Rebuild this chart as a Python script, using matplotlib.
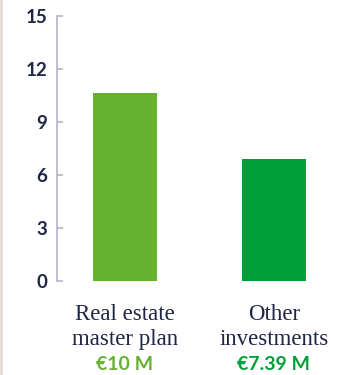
import matplotlib
matplotlib.use("Agg")
import matplotlib.pyplot as plt
from matplotlib.patches import Rectangle
from matplotlib.transforms import blended_transform_factory

categories = ["Real estate\nmaster plan", "Other\ninvestments"]
values = [10.65, 6.9]
value_labels = ["€10 M", "€7.39 M"]
bar_colors = ["#64b22f", "#00a039"]
yticks = [0, 3, 6, 9, 12, 15]

W, H = 345, 375
fig = plt.figure(figsize=(W / 100, H / 100), dpi=100)
fig.patches.append(Rectangle((0, 0), 3 / W, 1, transform=fig.transFigure,
                             facecolor="#e6ddd6", edgecolor="none"))
ax = fig.add_axes([57 / W, (H - 281) / H, (W - 57) / W, (281 - 16) / H])

x = list(range(len(categories)))
ax.bar(x, values, width=0.43, color=bar_colors)
ax.set_xlim(-0.456, 1.477)
ax.set_ylim(0, 15)

for s in ["top", "right", "bottom"]:
    ax.spines[s].set_visible(False)
ax.spines["left"].set_color("#b4b4cc")
ax.spines["left"].set_linewidth(1.2)
ax.set_xticks([])
ax.set_yticks(yticks)
ax.set_yticklabels([str(t) for t in yticks])
ax.tick_params(axis="y", direction="in", length=4.5, width=1.2, color="#b4b4cc",
               pad=7, labelsize=13.5, labelcolor="#1f2747")
for lab in ax.get_yticklabels():
    lab.set_fontfamily("Lato")
    lab.set_fontweight("bold")

tr = blended_transform_factory(ax.transData, fig.transFigure)
for i, (cat, vl, c) in enumerate(zip(categories, value_labels, bar_colors)):
    ax.text(i, 1 - 327 / H, cat, transform=tr, ha="center", va="center",
            fontsize=16.5, family="Liberation Serif", color="#1f2747",
            linespacing=1.22, clip_on=False)
    ax.text(i, 1 - 365 / H, vl, transform=tr, ha="center", va="center",
            fontsize=14, family="Lato", fontweight="bold", color=c,
            clip_on=False)

fig.savefig("out.png", dpi=100)
